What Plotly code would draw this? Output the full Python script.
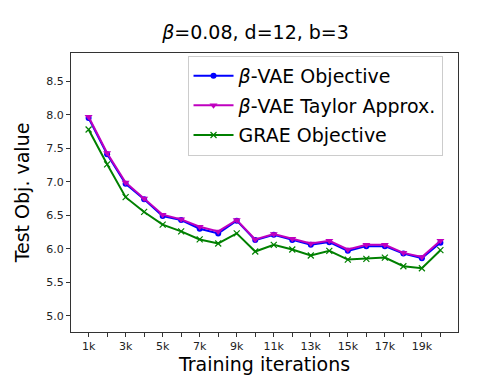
import plotly.graph_objects as go

# Dados
iteracoes = [1000, 2000, 3000, 4000, 5000, 6000, 7000, 8000, 9000, 10000,
             11000, 12000, 13000, 14000, 15000, 16000, 17000, 18000, 19000, 20000]
rotulos_x = ["1k", "", "3k", "", "5k", "", "7k", "", "9k", "",
             "11k", "", "13k", "", "15k", "", "17k", "", "19k", ""]

beta_vae = [7.95, 7.41, 6.97, 6.74, 6.49, 6.43, 6.30, 6.23, 6.42, 6.13,
            6.21, 6.13, 6.06, 6.10, 5.97, 6.04, 6.04, 5.93, 5.86, 6.09]
beta_vae_taylor = [7.97, 7.43, 6.99, 6.75, 6.51, 6.44, 6.33, 6.26, 6.43, 6.14,
                   6.22, 6.15, 6.08, 6.12, 5.99, 6.06, 6.06, 5.94, 5.88, 6.12]
grae = [7.78, 7.26, 6.77, 6.55, 6.36, 6.26, 6.14, 6.08, 6.23, 5.96,
        6.06, 5.99, 5.90, 5.97, 5.84, 5.85, 5.87, 5.74, 5.71, 5.98]

y_ticks = [5.0, 5.5, 6.0, 6.5, 7.0, 7.5, 8.0, 8.5]

fonte = "DejaVu Sans"

fig = go.Figure()

fig.add_trace(go.Scatter(
    x=iteracoes, y=beta_vae, name="<i>β</i>-VAE Objective",
    mode="lines+markers", legendgroup="a",
    line=dict(color="#0000ff", width=2),
    marker=dict(symbol="circle", size=6, color="#0000ff")
))

fig.add_trace(go.Scatter(
    x=iteracoes, y=beta_vae_taylor, name="<i>β</i>-VAE Taylor Approx.",
    mode="lines+markers", legendgroup="b",
    line=dict(color="#bf00bf", width=2),
    marker=dict(symbol="triangle-down", size=7, color="#bf00bf")
))

fig.add_trace(go.Scatter(
    x=iteracoes, y=grae, name="GRAE Objective",
    mode="lines+markers", legendgroup="c",
    line=dict(color="#008000", width=2),
    marker=dict(symbol="x-thin", size=6, line=dict(color="#008000", width=1.2))
))

eixo = dict(
    showline=True, linecolor="#333333", linewidth=1, mirror=True,
    ticks="outside", ticklen=4, tickcolor="#333333",
    showgrid=False, zeroline=False,
    tickfont=dict(family=fonte, size=11, color="#222222"),
)

fig.update_layout(
    width=500, height=375,
    margin=dict(l=63, r=50, t=45, b=42),
    paper_bgcolor="white", plot_bgcolor="white",
    font=dict(family=fonte, color="black"),
    title=dict(text="<i>β</i>=0.08, d=12, b=3", x=0.495, xanchor="center",
               y=0.935, yanchor="middle", font=dict(size=19)),
    xaxis=dict(eixo, range=[50, 20950], tickvals=iteracoes, ticktext=rotulos_x,
               title=dict(text="Training iterations", font=dict(size=19), standoff=4)),
    yaxis=dict(eixo, range=[4.76, 8.92], tickvals=y_ticks, tickformat=".1f",
               title=dict(text="Test Obj. value", font=dict(size=19), standoff=11)),
    legend=dict(
        x=0.96, xanchor="right", y=0.99, yanchor="top",
        bgcolor="rgba(255,255,255,0.8)", bordercolor="#cccccc", borderwidth=1,
        font=dict(size=19), traceorder="grouped", tracegroupgap=2,
        itemwidth=40,
    ),
    showlegend=True,
)

fig.write_html("out.html")
